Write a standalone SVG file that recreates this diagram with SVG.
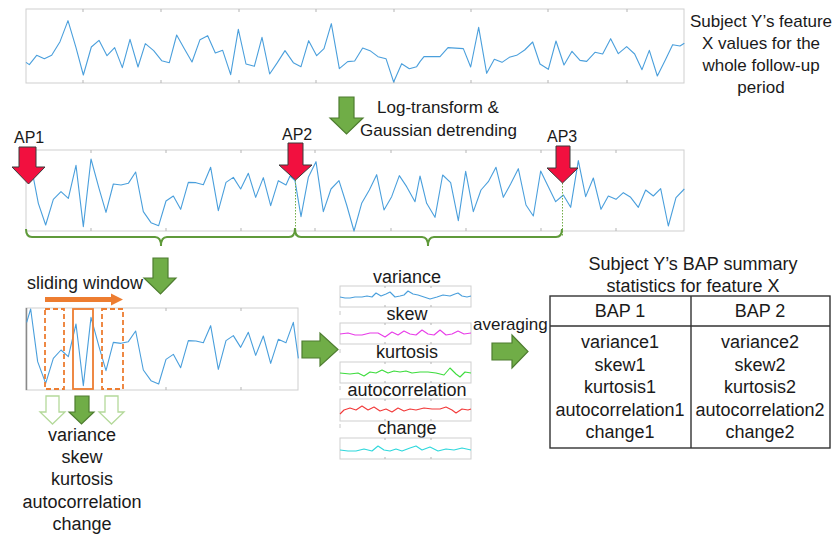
<svg xmlns="http://www.w3.org/2000/svg" width="837" height="540" viewBox="0 0 837 540">
<defs>
<style>
text{font-family:"Liberation Sans",Arial,sans-serif;fill:#1a1a1a}
.t18{font-size:18px}
.t17{font-size:17px}
.t16{font-size:16px}
.c{text-anchor:middle}
.frame{fill:#fff;stroke:#cfcfcf;stroke-width:1}
.tick{stroke:#b5b5b5;stroke-width:1}
.sig{fill:none;stroke:#4a9fdc;stroke-width:1.1;stroke-linejoin:round;vector-effect:non-scaling-stroke}
.mini{fill:none;stroke-width:1.1;stroke-linejoin:round}
.garrow{fill:#70ad47;stroke:#4e7d30;stroke-width:1.2;stroke-linejoin:miter}
.harrow{fill:#fff;stroke:#b4d99a;stroke-width:1.3}
.rarrow{fill:#f2103f;stroke:#3a3a3a;stroke-width:1}
.win{fill:none;stroke:#ed7d31;stroke-width:1.8}
.dash{stroke-dasharray:5,3}
.tbl{fill:none;stroke:#333;stroke-width:1.4}
</style>
</defs>

<g id="raw-signal">
<rect class="frame" x="26" y="9" width="658" height="74"/>
<path class="tick" d="M83,9v3M161,9v3M239,9v3M316,9v3M394,9v3M471,9v3M548,9v3M627,9v3M83,83v-3M161,83v-3M239,83v-3M316,83v-3M394,83v-3M471,83v-3M548,83v-3M627,83v-3"/>
<polyline class="sig" transform="scale(0.33333)" points="78,187 88,194 110,166 133,176 155,166 180,125 204,62 228,143 250,225 274,141 297,121 321,167 344,143 367,203 390,118 414,201 436,131 461,152 485,182 508,188 530,105 553,146 576,186 600,119 623,107 646,159 668,151 692,224 715,88 738,192 763,199 786,112 809,222 832,188 855,152 880,188 903,200 926,122 950,167 972,146 994,71 1018,206 1043,185 1064,183 1088,144 1110,152 1134,170 1158,176 1181,246 1205,191 1228,206 1250,200 1260,185 1272,170 1320,170 1344,143 1390,146 1412,201 1436,82 1460,220 1483,178 1506,187 1528,172 1550,166 1574,150 1598,126 1620,192 1645,208 1668,123 1692,195 1716,154 1740,181 1760,184 1785,157 1808,162 1832,116 1855,161 1880,140 1904,162 1926,209 1948,151 1972,228 1996,180 2018,134 2040,138 2053,130"/>
</g>

<g id="raw-label">
<text class="t17 c" x="761" y="27">Subject Y’s feature</text>
<text class="t17 c" x="761" y="49">X values for the</text>
<text class="t17 c" x="761" y="71">whole follow-up</text>
<text class="t17 c" x="761" y="93">period</text>
</g>

<g id="detrend-step">
<polygon class="garrow" points="339,97 354,97 354,118 363,118 346.5,134 330,118 339,118"/>
<text class="t17 c" x="438" y="113">Log-transform &amp;</text>
<text class="t17 c" x="438.5" y="136">Gaussian detrending</text>
</g>

<g id="detrended-signal">
<rect class="frame" x="26" y="150" width="658" height="81"/>
<path class="tick" d="M91,150v3M166,150v3M241,150v3M315,150v3M391,150v3M466,150v3M541,150v3M616,150v3M91,231v-3M166,231v-3M241,231v-3M315,231v-3M391,231v-3M466,231v-3M541,231v-3M616,231v-3"/>
<polyline class="sig" transform="translate(0,90) scale(0.33333)" points="84,272 100,262 115,340 137,405 160,328 183,305 205,325 228,226 250,410 273,207 297,295 318,367 340,282 363,285 385,280 407,246 430,365 453,398 476,407 498,333 520,318 542,358 565,277 588,278 610,284 632,232 655,362 678,277 700,262 722,297 745,250 767,322 790,263 812,347 835,272 858,285 870,258 885,272 903,380 925,262 948,215 970,365 993,297 1017,272 1040,345 1062,423 1085,340 1108,300 1130,254 1152,360 1175,320 1198,257 1220,290 1245,335 1260,258 1280,340 1305,382 1328,255 1352,278 1375,392 1397,244 1420,365 1443,300 1465,275 1488,232 1510,322 1533,280 1555,236 1578,345 1600,378 1622,243 1645,290 1667,335 1690,315 1712,352 1735,212 1757,320 1780,264 1803,358 1825,318 1848,328 1870,308 1892,322 1915,352 1937,300 1960,318 1982,296 2005,408 2028,323 2053,297"/>
</g>

<g id="ap1">
<polygon class="rarrow" points="19,147 36,147 36,167 45,167 28.5,184 12,167 19,167"/>
<text class="t16" x="14" y="143">AP1</text>
</g>
<g id="ap2">
<path d="M295.5,180V237" stroke="#70ad47" stroke-width="1" stroke-dasharray="1.5,1.5"/>
<polygon class="rarrow" points="288,143 303,143 303,165 312,165 295.5,180 279,165 288,165"/>
<text class="t16" x="282" y="140">AP2</text>
</g>
<g id="ap3">
<path d="M562.5,183V237" stroke="#70ad47" stroke-width="1" stroke-dasharray="1.5,1.5"/>
<polygon class="rarrow" points="556,146 570,146 570,168 578,168 562.5,183 547,168 556,168"/>
<text class="t16" x="547" y="142">AP3</text>
</g>

<g id="sliding-window">
<text class="t18" x="27" y="289">sliding window</text>
<path d="M45,297H111V293.5L123,299.5L111,305.5V302H45Z" fill="#ed7d31"/>
<polygon class="garrow" points="153,258 168,258 168,278 176,278 160.5,294 144,278 153,278"/>
<rect class="frame" x="26" y="308" width="272" height="82"/>
<path d="M26.5,308V390" stroke="#8a8a8a" stroke-width="1.5"/>
<path class="tick" d="M166,308v3M241,308v3M166,390v-3M241,390v-3"/>
<polyline class="sig" transform="translate(0,290) scale(0.33333)" points="80,97 92,57 113,215 137,280 160,205 183,180 205,200 228,102 250,287 273,82 297,170 318,242 340,157 363,160 385,155 407,123 430,240 453,272 476,282 498,208 520,193 542,233 565,152 588,153 610,158 632,107 655,238 678,152 700,137 722,172 745,127 767,196 790,138 812,220 835,148 858,158 880,97 895,205"/>
<rect class="win dash" x="45" y="309" width="19" height="80"/>
<rect class="win" x="73" y="309" width="20" height="80"/>
<rect class="win dash" x="102" y="309" width="21" height="80"/>
<polygon class="harrow" points="46,396 59,396 59,412 65,412 52.5,424 40,412 46,412"/>
<polygon class="garrow" points="75,396 89,396 89,412 94,412 81.5,424 69,412 75,412"/>
<polygon class="harrow" points="105,396 118,396 118,412 124,412 111.5,424 99,412 105,412"/>
<text class="t18 c" x="82" y="441">variance</text>
<text class="t18 c" x="82" y="463">skew</text>
<text class="t18 c" x="82" y="485">kurtosis</text>
<text class="t18 c" x="82" y="508">autocorrelation</text>
<text class="t18 c" x="82" y="530">change</text>
</g>

<g id="stat-series">
<path d="M340,311v4M340,349v4M340,386v4M340,424v4" stroke="#c8c8c8" stroke-width="1"/>
<text class="t18 c" x="407" y="283">variance</text>
<g transform="translate(340,286)">
<rect class="frame" width="131" height="21"/>
<path class="tick" d="M45,0v2M91,0v2M45,21v-2M91,21v-2"/>
<polyline class="mini" stroke="#4a9fdc" points="0,11 5,12 10,12 15,11 22,11 27,10 32,11 36,7 41,10 46,8 50,6 55,11 60,10 64,9 68,5 73,8 78,9 84,11 90,13 97,11 103,9 110,10 115,8 118,7 122,10 127,11 131,10"/>
</g>
<text class="t18 c" x="407" y="320">skew</text>
<g transform="translate(340,323)">
<rect class="frame" width="131" height="21"/>
<path class="tick" d="M45,0v2M91,0v2M45,21v-2M91,21v-2"/>
<polyline class="mini" stroke="#e83ce8" points="0,11 8,10 15,12 22,12 30,10 38,10 45,14 52,9 58,12 64,8 70,11 76,12 82,7 88,11 94,12 100,7 106,12 112,11 118,8 124,11 131,10"/>
</g>
<text class="t18 c" x="407" y="358">kurtosis</text>
<g transform="translate(340,362)">
<rect class="frame" width="131" height="21"/>
<path class="tick" d="M45,0v2M91,0v2M45,21v-2M91,21v-2"/>
<polyline class="mini" stroke="#3ddc3d" points="0,11 10,12 18,11 24,14 30,10 36,11 42,8 48,11 54,9 60,10 66,9 72,11 80,10 88,10 96,11 104,13 110,6 116,12 120,15 125,10 131,11"/>
</g>
<text class="t18 c" x="407" y="396">autocorrelation</text>
<g transform="translate(340,399)">
<rect class="frame" width="131" height="22"/>
<path class="tick" d="M45,0v2M91,0v2M45,22v-2M91,22v-2"/>
<polyline class="mini" stroke="#f23a3a" points="0,15 4,11 10,9 16,11 22,7 28,11 34,8 40,12 46,10 52,13 58,9 64,12 70,10 76,11 84,9 92,10 100,10 106,8 112,11 116,14 122,10 128,11 131,10"/>
</g>
<text class="t18 c" x="407" y="434">change</text>
<g transform="translate(340,438)">
<rect class="frame" width="131" height="21"/>
<path class="tick" d="M45,0v2M91,0v2M45,21v-2M91,21v-2"/>
<polyline class="mini" stroke="#2ed8dc" points="0,12 8,13 16,13 24,11 32,13 38,8 44,12 50,13 56,11 62,13 70,10 76,8 82,12 90,9 98,13 106,11 114,12 122,10 131,12"/>
</g>
</g>

<g id="summary-table">
<text class="t18 c" x="693" y="270">Subject Y’s BAP summary</text>
<text class="t18 c" x="693" y="292">statistics for feature X</text>
<rect class="tbl" x="550" y="296" width="280" height="152"/>
<path class="tbl" d="M691,296V448M550,326H830"/>
<text class="t18 c" x="620" y="317">BAP 1</text>
<text class="t18 c" x="760" y="317">BAP 2</text>
<text class="t18 c" x="620" y="348">variance1</text>
<text class="t18 c" x="620" y="371">skew1</text>
<text class="t18 c" x="620" y="393">kurtosis1</text>
<text class="t18 c" x="620" y="416">autocorrelation1</text>
<text class="t18 c" x="620" y="438">change1</text>
<text class="t18 c" x="760" y="348">variance2</text>
<text class="t18 c" x="760" y="371">skew2</text>
<text class="t18 c" x="760" y="393">kurtosis2</text>
<text class="t18 c" x="760" y="416">autocorrelation2</text>
<text class="t18 c" x="760" y="438">change2</text>
</g>

<g id="connectors">
<path d="M26,229Q26,237 32,237H155Q161,237 161,246Q161,237 167,237H289Q295,237 295,228Q295,237 301,237H422Q428,237 428,246Q428,237 434,237H556Q562,237 562,229" fill="none" stroke="#5f9a3a" stroke-width="2"/>
<polygon class="garrow" points="302,341 320,341 320,333 338,349.5 320,366 320,358 302,358"/>
<text class="t17" x="473" y="330">averaging</text>
<polygon class="garrow" points="492,343 512,343 512,335 528,351.5 512,368 512,360 492,360"/>
</g>
</svg>
